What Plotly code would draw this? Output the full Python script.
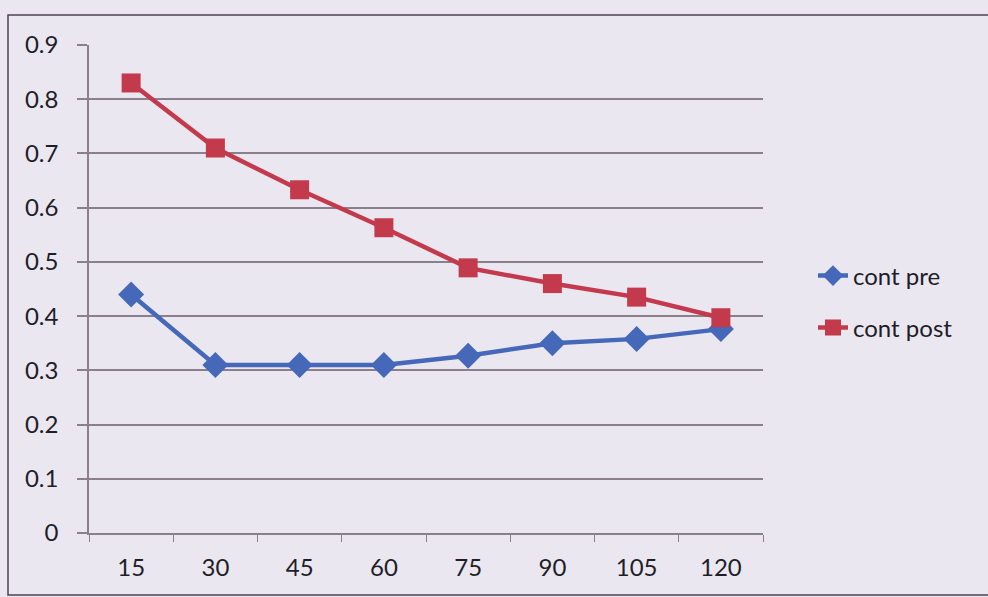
import plotly.graph_objects as go

# Time points (minutes) and the two control-group series
minutes = ["15", "30", "45", "60", "75", "90", "105", "120"]
cont_pre = [0.44, 0.31, 0.31, 0.31, 0.327, 0.35, 0.358, 0.376]
cont_post = [0.83, 0.71, 0.633, 0.563, 0.489, 0.46, 0.435, 0.397]
y_ticks = [0, 0.1, 0.2, 0.3, 0.4, 0.5, 0.6, 0.7, 0.8, 0.9]
y_labels = ["0", "0.1", "0.2", "0.3", "0.4", "0.5", "0.6", "0.7", "0.8", "0.9"]

W, H = 988, 597
L, R, T, B = 89, 225, 45, 64
pw, ph = W - L - R, H - T - B

grid_col = "#8c7f8c"
bg = "#ebe7f1"
font = dict(family="Lato, Open Sans, sans-serif", size=24, color="#1e1e28")

fig = go.Figure()
fig.add_trace(go.Scatter(
    x=minutes, y=cont_pre, name="cont pre", mode="lines+markers",
    line=dict(color="#4569b8", width=4.5),
    marker=dict(symbol="diamond", size=20, color="#4569b8"),
    legend="legend",
))
fig.add_trace(go.Scatter(
    x=minutes, y=cont_post, name="cont post", mode="lines+markers",
    line=dict(color="#c23a4c", width=4.5),
    marker=dict(symbol="square", size=19, color="#c23a4c"),
    legend="legend2",
))

# outer chart border (extends past the right edge)
fig.add_shape(type="rect", xref="paper", yref="paper",
              x0=(8 - L) / pw, x1=(W + 20 - L) / pw,
              y0=(H - 595 - B) / ph, y1=(H - 15 - B) / ph,
              line=dict(color="#4a4450", width=1.5), layer="below")


def legend_at(py):
    # place a legend box so its single entry is centred on pixel row py
    return dict(x=(813 - L) / pw, y=(H - py - B) / ph, xanchor="left", yanchor="middle",
                bgcolor="rgba(0,0,0,0)", font=dict(family=font["family"], size=24,
                                                   color=font["color"]),
                itemwidth=30)


fig.update_layout(
    width=W, height=H,
    margin=dict(l=L, r=R, t=T, b=B),
    paper_bgcolor=bg, plot_bgcolor=bg,
    font=font,
    showlegend=True,
    legend=legend_at(276),
    legend2=legend_at(328),
    xaxis=dict(type="category", tickson="boundaries", ticks="outside", ticklen=7,
               tickcolor=grid_col, showline=True, linecolor=grid_col, linewidth=1.5,
               showgrid=False, range=[-0.5, 7.5], ticklabelstandoff=12,
               tickfont=font),
    yaxis=dict(range=[0, 0.9], tickvals=y_ticks, ticktext=y_labels,
               ticks="outside", ticklen=10, tickcolor=grid_col, tickwidth=1.5,
               showgrid=True, gridcolor=grid_col, gridwidth=1.5,
               showline=True, linecolor=grid_col, linewidth=1.5,
               zeroline=False, ticklabelstandoff=14, tickfont=font),
)

fig.write_html("out.html")
